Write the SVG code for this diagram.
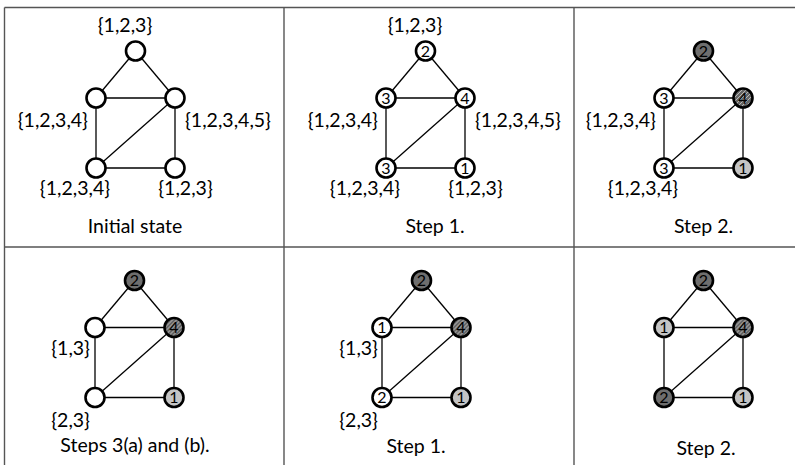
<svg xmlns="http://www.w3.org/2000/svg" width="795" height="465" viewBox="0 0 795 465">
<defs>
<style>
.grid{stroke:#555;stroke-width:1.4;fill:none}
.e{stroke:#000;stroke-width:1.3;fill:none}
.n{stroke:#000;stroke-width:2.6}
.w{fill:#fff}
.d{fill:#6e6e6e}
.l{fill:#c4c4c4}
.h{fill:url(#hatch)}
.t{font-family:Lato,"Liberation Sans",sans-serif;font-size:19.5px;fill:#000}
.nt{font-family:Lato,"Liberation Sans",sans-serif;font-size:16px;fill:#000;text-anchor:middle}
.c{text-anchor:middle}
.r{text-anchor:end}
</style>
<pattern id="hatch" patternUnits="userSpaceOnUse" width="4" height="4">
<rect width="4" height="4" fill="#666"/>
<path d="M0,4 L4,0 M-1,1 L1,-1 M3,5 L5,3" stroke="#b8b8b8" stroke-width="1"/>
</pattern>
<g id="edges">
<line x1="135.5" y1="51" x2="96" y2="98"/>
<line x1="135.5" y1="51" x2="175" y2="98"/>
<line x1="96" y1="98" x2="175" y2="98"/>
<line x1="96" y1="98" x2="96" y2="168"/>
<line x1="175" y1="98" x2="175" y2="168"/>
<line x1="96" y1="168" x2="175" y2="168"/>
<line x1="96" y1="168" x2="175" y2="98"/>
</g>
</defs>
<g id="grid" class="grid">
<line x1="4.5" y1="7.5" x2="795" y2="7.5"/>
<line x1="4.5" y1="7.5" x2="4.5" y2="465"/>
<line x1="284" y1="7.5" x2="284" y2="465"/>
<line x1="574" y1="7.5" x2="574" y2="465"/>
<line x1="4.5" y1="247" x2="795" y2="247"/>
</g>

<g id="panel1">
<g id="p1-connectors" class="e"><use href="#edges"/></g>
<g id="p1-nT"><circle class="n w" cx="135.5" cy="51" r="9.5"/></g>
<g id="p1-nL"><circle class="n w" cx="96" cy="98" r="9.5"/></g>
<g id="p1-nR"><circle class="n w" cx="175" cy="98" r="9.5"/></g>
<g id="p1-nBL"><circle class="n w" cx="96" cy="168" r="9.5"/></g>
<g id="p1-nBR"><circle class="n w" cx="175" cy="168" r="9.5"/></g>
<text class="t c" x="125" y="32">{1,2,3}</text>
<text class="t r" x="88" y="126.5">{1,2,3,4}</text>
<text class="t" x="185" y="126.5">{1,2,3,4,5}</text>
<text class="t c" x="75" y="195">{1,2,3,4}</text>
<text class="t c" x="185.5" y="195">{1,2,3}</text>
<text class="t c" x="135" y="233">Initial state</text>
</g>

<g id="panel2" transform="translate(290,0)">
<g id="p2-connectors" class="e"><use href="#edges"/></g>
<g id="p2-nT"><circle class="n w" cx="135.5" cy="51" r="9.5"/><text class="nt" x="135.5" y="56.8">2</text></g>
<g id="p2-nL"><circle class="n w" cx="96" cy="98" r="9.5"/><text class="nt" x="96" y="103.8">3</text></g>
<g id="p2-nR"><circle class="n w" cx="175" cy="98" r="9.5"/><text class="nt" x="175" y="103.8">4</text></g>
<g id="p2-nBL"><circle class="n w" cx="96" cy="168" r="9.5"/><text class="nt" x="96" y="173.8">3</text></g>
<g id="p2-nBR"><circle class="n w" cx="175" cy="168" r="9.5"/><text class="nt" x="175" y="173.8">1</text></g>
<text class="t c" x="125" y="32">{1,2,3}</text>
<text class="t r" x="88" y="126.5">{1,2,3,4}</text>
<text class="t" x="185" y="126.5">{1,2,3,4,5}</text>
<text class="t c" x="75" y="195">{1,2,3,4}</text>
<text class="t c" x="185.5" y="195">{1,2,3}</text>
<text class="t c" x="145" y="233">Step 1.</text>
</g>

<g id="panel3" transform="translate(568,0)">
<g id="p3-connectors" class="e"><use href="#edges"/></g>
<g id="p3-nT"><circle class="n d" cx="135.5" cy="51" r="9.5"/><text class="nt" x="135.5" y="56.8">2</text></g>
<g id="p3-nL"><circle class="n w" cx="96" cy="98" r="9.5"/><text class="nt" x="96" y="103.8">3</text></g>
<g id="p3-nR"><circle class="n h" cx="175" cy="98" r="9.5"/><text class="nt" x="175" y="103.8">4</text></g>
<g id="p3-nBL"><circle class="n w" cx="96" cy="168" r="9.5"/><text class="nt" x="96" y="173.8">3</text></g>
<g id="p3-nBR"><circle class="n l" cx="175" cy="168" r="9.5"/><text class="nt" x="175" y="173.8">1</text></g>
<text class="t r" x="88" y="126.5">{1,2,3,4}</text>
<text class="t c" x="75" y="195">{1,2,3,4}</text>
<text class="t c" x="135.5" y="233">Step 2.</text>
</g>

<g id="panel4" transform="translate(-1,229.5)">
<g id="p4-connectors" class="e"><use href="#edges"/></g>
<g id="p4-nT"><circle class="n d" cx="135.5" cy="51" r="9.5"/><text class="nt" x="135.5" y="56.8">2</text></g>
<g id="p4-nL"><circle class="n w" cx="96" cy="98" r="9.5"/></g>
<g id="p4-nR"><circle class="n h" cx="175" cy="98" r="9.5"/><text class="nt" x="175" y="103.8">4</text></g>
<g id="p4-nBL"><circle class="n w" cx="96" cy="168" r="9.5"/></g>
<g id="p4-nBR"><circle class="n l" cx="175" cy="168" r="9.5"/><text class="nt" x="175" y="173.8">1</text></g>
<text class="t r" x="91" y="125.5">{1,3}</text>
<text class="t r" x="91" y="197.5">{2,3}</text>
<text class="t c" x="136" y="222.5">Steps 3(a) and (b).</text>
</g>

<g id="panel5" transform="translate(286,229.5)">
<g id="p5-connectors" class="e"><use href="#edges"/></g>
<g id="p5-nT"><circle class="n d" cx="135.5" cy="51" r="9.5"/><text class="nt" x="135.5" y="56.8">2</text></g>
<g id="p5-nL"><circle class="n w" cx="96" cy="98" r="9.5"/><text class="nt" x="96" y="103.8">1</text></g>
<g id="p5-nR"><circle class="n h" cx="175" cy="98" r="9.5"/><text class="nt" x="175" y="103.8">4</text></g>
<g id="p5-nBL"><circle class="n w" cx="96" cy="168" r="9.5"/><text class="nt" x="96" y="173.8">2</text></g>
<g id="p5-nBR"><circle class="n l" cx="175" cy="168" r="9.5"/><text class="nt" x="175" y="173.8">1</text></g>
<text class="t r" x="92" y="125.5">{1,3}</text>
<text class="t r" x="92" y="197.5">{2,3}</text>
<text class="t c" x="130" y="223.5">Step 1.</text>
</g>

<g id="panel6" transform="translate(568,229.5)">
<g id="p6-connectors" class="e"><use href="#edges"/></g>
<g id="p6-nT"><circle class="n d" cx="135.5" cy="51" r="9.5"/><text class="nt" x="135.5" y="56.8">2</text></g>
<g id="p6-nL"><circle class="n l" cx="96" cy="98" r="9.5"/><text class="nt" x="96" y="103.8">1</text></g>
<g id="p6-nR"><circle class="n h" cx="175" cy="98" r="9.5"/><text class="nt" x="175" y="103.8">4</text></g>
<g id="p6-nBL"><circle class="n d" cx="96" cy="168" r="9.5"/><text class="nt" x="96" y="173.8">2</text></g>
<g id="p6-nBR"><circle class="n l" cx="175" cy="168" r="9.5"/><text class="nt" x="175" y="173.8">1</text></g>
<text class="t c" x="138" y="225.5">Step 2.</text>
</g>
</svg>
